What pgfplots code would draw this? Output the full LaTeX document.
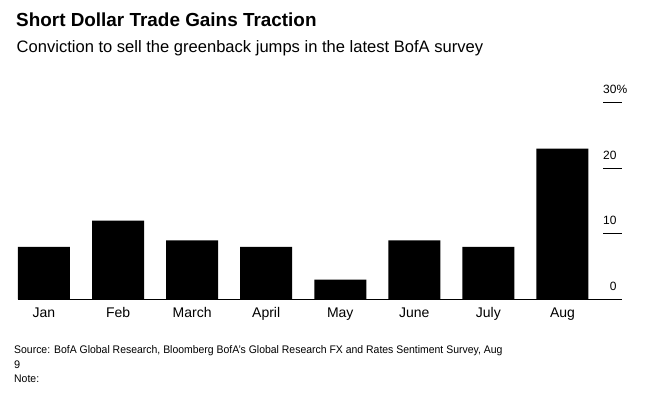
\documentclass[border=0pt]{standalone}
\usepackage{fontspec}
\setmainfont{Liberation Sans}
\usepackage{pgfplots}
\pgfplotsset{compat=1.18}
\begin{document}
\begin{tikzpicture}
\useasboundingbox (0,0) rectangle (650pt,-394pt);
\node[anchor=base west, inner sep=0] at (16pt,-26.7pt) {\fontsize{18.9}{20}\selectfont\bfseries Short Dollar Trade Gains Traction};
\node[anchor=base west, inner sep=0] at (16.5pt,-52.5pt) {\fontsize{16.55}{18}\selectfont Conviction to sell the greenback jumps in the latest BofA survey};
\begin{axis}[
  at={(18pt,-299.3pt)}, anchor=south west,
  scale only axis, width=603.7pt, height=196.6pt,
  xmin=-0.351, xmax=7.8, ymin=0, ymax=30,
  clip=false,
  axis x line=bottom, axis y line=right,
  x axis line style={-, black, line width=1pt},
  y axis line style={draw=none},
  xtick=data,
  xticklabels={Jan,Feb,March,April,May,June,July,Aug},
  xtick style={draw=none},
  xtick align=inside,
  xticklabel style={anchor=base, inner sep=0, yshift=-18pt, font=\fontsize{14}{14}\selectfont},
  ytick={0,10,20},
  yticklabels={0,10,20},
  extra y ticks={30},
  extra y tick labels={30\rlap{\%}},
  extra y tick style={major tick style={draw=gray!80, line width=1.2pt}},
  ytick align=inside,
  major tick length=18.7pt,
  ytick style={draw=black, line width=1pt},
  yticklabel style={anchor=base east, inner sep=0, xshift=-5pt, yshift=9pt, font=\fontsize{12}{12}\selectfont},
]
\addplot[ybar, bar width=52pt, fill=black, draw=none] coordinates {
(0,8) (1,12) (2,9) (3,8) (4,3) (5,9) (6,8) (7,23)
};
\end{axis}
\node[anchor=base west, inner sep=0] at (14pt,-353.3pt) {\scalebox{0.95}[1]{\fontsize{11}{12}\selectfont Source: BofA Global Research, Bloomberg BofA's Global Research FX and Rates Sentiment Survey, Aug}};
\node[anchor=base west, inner sep=0] at (14pt,-368.3pt) {\fontsize{11}{12}\selectfont 9};
\node[anchor=base west, inner sep=0] at (14pt,-382.7pt) {\scalebox{0.95}[1]{\fontsize{11}{12}\selectfont Note:}};
\end{tikzpicture}
\end{document}
